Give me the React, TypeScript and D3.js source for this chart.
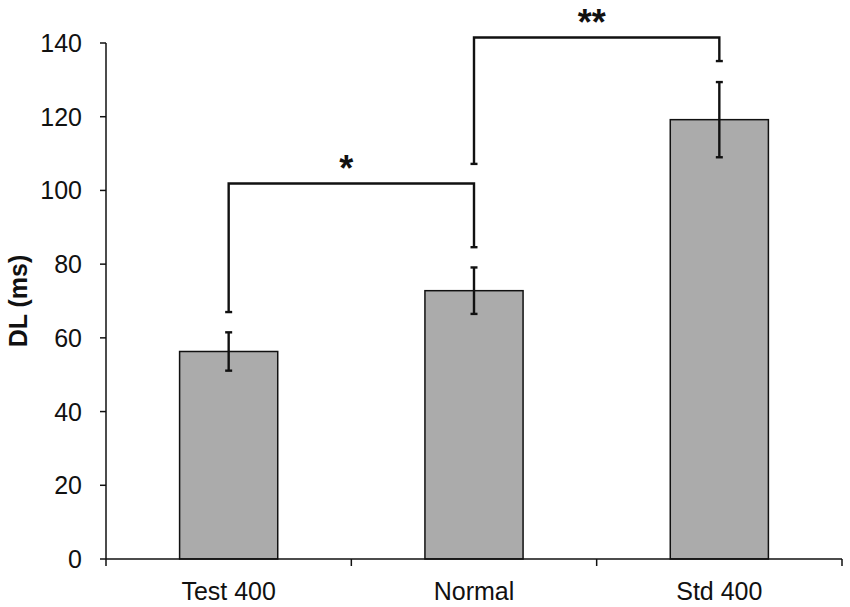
import * as d3 from 'd3'

const categories = ['Test 400', 'Normal', 'Std 400']
const means = [56.3, 72.8, 119.2]
const errors = [5.2, 6.3, 10.2]
const yTicks = [0, 20, 40, 60, 80, 100, 120, 140]

// significance brackets: from bar, to bar, leg bottoms, top level, label
const bracketFrom = [0, 1]
const bracketTo = [1, 2]
const bracketLeftBottom = [67, 107.2]
const bracketRightBottom = [84.6, 135.1]
const bracketTop = [101.9, 141.5]
const bracketLabels = ['*', '**']

const W = 850
const H = 607
const font = 'Liberation Sans, Arial, sans-serif'

export default () => {
  const x = d3.scaleBand<string>().domain(categories).range([106, 842]).paddingInner(0.6).paddingOuter(0.3)
  const y = d3.scaleLinear().domain([0, 140]).range([559, 43])
  const step = x.step()
  const center = (i: number) => (x(categories[i]) ?? 0) + x.bandwidth() / 2
  const cap = 3.5

  return (
    <svg width={W} height={H} style={{ position: 'absolute', left: 0, top: 0, background: '#fff' }}>
      <rect width={W} height={H} fill="#fff" />

      {/* bars */}
      {categories.map((c, i) => (
        <rect
          key={c}
          x={x(c)}
          y={y(means[i])}
          width={x.bandwidth()}
          height={y(0) - y(means[i])}
          fill="#ababab"
          stroke="#111"
          strokeWidth={1.5}
        />
      ))}

      {/* error bars */}
      {categories.map((c, i) => {
        const cx = center(i)
        const hi = y(means[i] + errors[i])
        const lo = y(means[i] - errors[i])
        return (
          <g key={'e' + c} stroke="#111" strokeWidth={2.4}>
            <line x1={cx} x2={cx} y1={hi} y2={lo} />
            <line x1={cx - cap} x2={cx + cap} y1={hi} y2={hi} />
            <line x1={cx - cap} x2={cx + cap} y1={lo} y2={lo} />
          </g>
        )
      })}

      {/* brackets */}
      {bracketLabels.map((lab, k) => {
        const x1 = center(bracketFrom[k])
        const x2 = center(bracketTo[k])
        const top = y(bracketTop[k])
        const lb = y(bracketLeftBottom[k])
        const rb = y(bracketRightBottom[k])
        return (
          <g key={'b' + k}>
            <path
              d={`M${x1},${lb}V${top}H${x2}V${rb}`}
              fill="none"
              stroke="#111"
              strokeWidth={2.4}
            />
            <line x1={x1 - cap} x2={x1 + cap} y1={lb} y2={lb} stroke="#111" strokeWidth={2.4} />
            <line x1={x2 - cap} x2={x2 + cap} y1={rb} y2={rb} stroke="#111" strokeWidth={2.4} />
            <text
              x={(x1 + x2) / 2 - 5}
              y={top - 2}
              textAnchor="middle"
              fontFamily={font}
              fontWeight="bold"
              fontSize={36}
              fill="#111"
            >
              {lab}
            </text>
          </g>
        )
      })}

      {/* y axis */}
      <line x1={106} x2={106} y1={y(0)} y2={y(140)} stroke="#111" strokeWidth={1.5} />
      {yTicks.map((t) => (
        <g key={'y' + t}>
          <line x1={100} x2={106} y1={y(t)} y2={y(t)} stroke="#111" strokeWidth={1.5} />
          <text
            x={82}
            y={y(t)}
            dy="0.36em"
            textAnchor="end"
            fontFamily={font}
            fontSize={25}
            fill="#111"
          >
            {t}
          </text>
        </g>
      ))}

      {/* x axis */}
      <line x1={106} x2={842} y1={y(0)} y2={y(0)} stroke="#111" strokeWidth={1.5} />
      {d3.range(categories.length + 1).map((i) => (
        <line
          key={'xt' + i}
          x1={106 + i * step}
          x2={106 + i * step}
          y1={y(0)}
          y2={y(0) + 7}
          stroke="#111"
          strokeWidth={1.5}
        />
      ))}
      {categories.map((c, i) => (
        <text
          key={'xl' + c}
          x={center(i)}
          y={600}
          textAnchor="middle"
          fontFamily={font}
          fontSize={25}
          fill="#111"
        >
          {c}
        </text>
      ))}

      {/* y label */}
      <text
        transform={`translate(27,${301}) rotate(-90)`}
        textAnchor="middle"
        fontFamily={font}
        fontWeight="bold"
        fontSize={25}
        fill="#111"
      >
        DL (ms)
      </text>
    </svg>
  )
}
